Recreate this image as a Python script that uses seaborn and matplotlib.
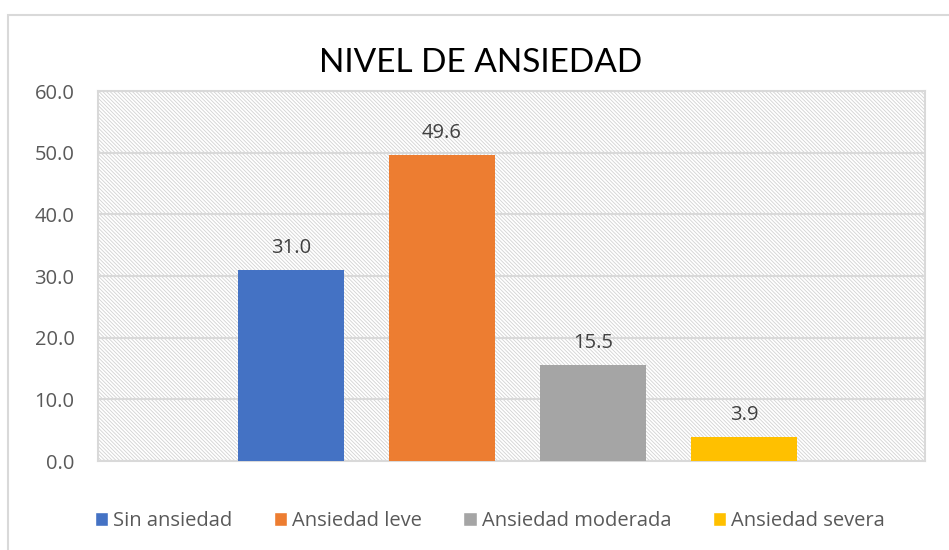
import matplotlib
matplotlib.use("Agg")
import matplotlib.pyplot as plt
import seaborn as sns
import pandas as pd
from matplotlib.patches import Rectangle

# data
categories = ["Sin ansiedad", "Ansiedad leve", "Ansiedad moderada", "Ansiedad severa"]
values = [31.0, 49.6, 15.5, 3.9]
colors = ["#4472C4", "#ED7D31", "#A5A5A5", "#FFC000"]
yticks = [0, 10, 20, 30, 40, 50, 60]

df = pd.DataFrame({"Nivel": categories, "Porcentaje": values})

sns.set_theme(style="white")
plt.rcParams["font.family"] = ["Open Sans", "DejaVu Sans"]
plt.rcParams["hatch.linewidth"] = 0.6

fig = plt.figure(figsize=(9.49, 5.50), dpi=100)
ax = fig.add_axes([0.1033, 0.1618, 0.8714, 0.6727])

# hatched plot background
ax.add_patch(Rectangle((0, 0), 1, 1, transform=ax.transAxes, facecolor="white",
                       edgecolor="#D2D2D2", hatch="\\" * 9, linewidth=0, zorder=0))

sns.barplot(data=df, x="Nivel", y="Porcentaje", hue="Nivel", palette=colors,
            width=0.70, saturation=1, legend=False, ax=ax, zorder=3,
            edgecolor="none", linewidth=0)

for p, v in zip(ax.patches[-4:], values):
    ax.text(p.get_x() + p.get_width() / 2, v + 2.0, f"{v:.1f}", ha="center",
            va="bottom", fontsize=14.5, color="#404040", zorder=4)

ax.set_xlim(-1.278, 4.199)
ax.set_ylim(0, 60)
ax.set_yticks(yticks)
ax.set_yticklabels([f"{t:.1f}" for t in yticks], fontsize=14.5, color="#595959")
ax.set_xticks([])
ax.set_xlabel("")
ax.set_ylabel("")
ax.tick_params(axis="y", length=0, pad=17)
ax.yaxis.grid(True, color="#D9D9D9", linewidth=1.5, zorder=1)
ax.set_axisbelow(True)
for s in ax.spines.values():
    s.set_color("#D9D9D9")
    s.set_linewidth(1.5)

fig.text(0.5063, 0.885, "NIVEL DE ANSIEDAD", ha="center", va="center",
         fontsize=24, color="black", family=["Lato", "DejaVu Sans"])

handles = [Rectangle((0, 0), 1, 1, facecolor=c) for c in colors]
fig.legend(handles, categories, loc="center", bbox_to_anchor=(0.516, 0.053), ncol=4,
           frameon=False, fontsize=14.5, handlelength=0.65, handleheight=0.7,
           handletextpad=0.25, columnspacing=2.07, labelcolor="#595959")

# outer chart border
fig.patches.append(Rectangle((8 / 949, -0.01), 1.0, (550 - 15) / 550 + 0.01,
                             transform=fig.transFigure, facecolor="none",
                             edgecolor="#D9D9D9", linewidth=1.5))

fig.savefig("out.png", dpi=100)
